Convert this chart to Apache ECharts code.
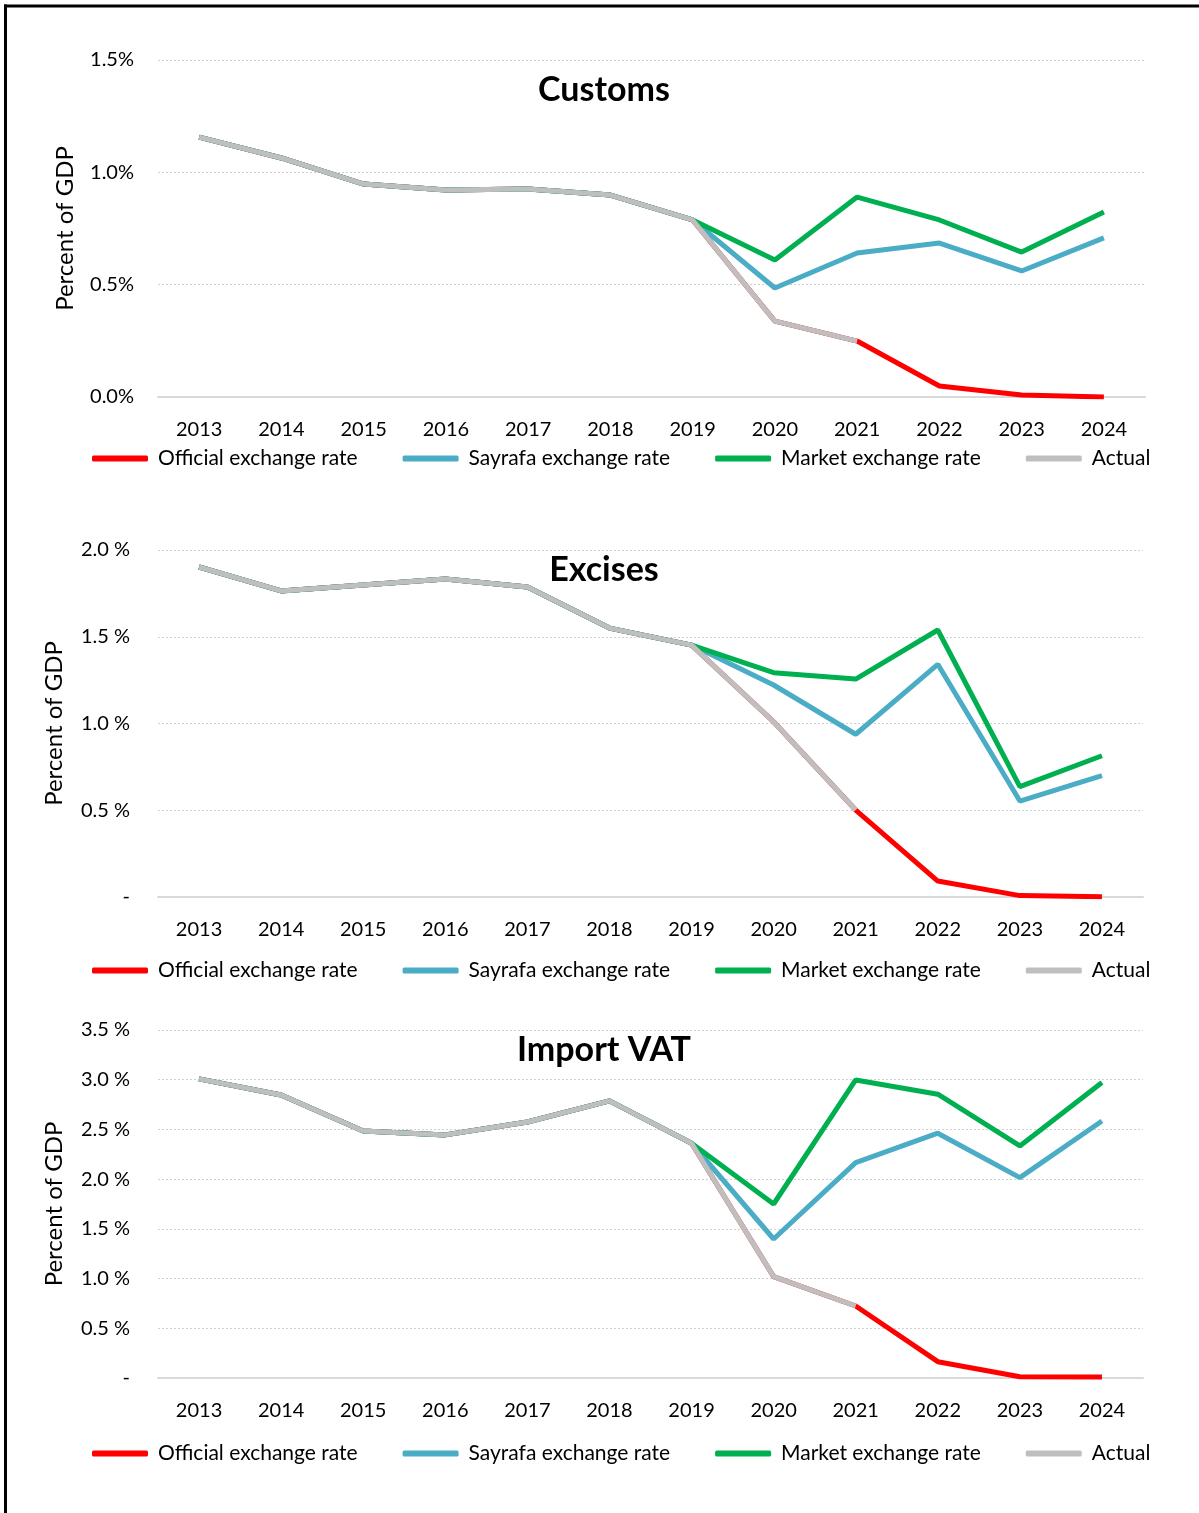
<!DOCTYPE html>
<html>
<head>
<meta charset="utf-8">
<script src="https://cdn.jsdelivr.net/npm/echarts@6/dist/echarts.min.js"></script>
<style>
  html, body { margin: 0; padding: 0; background: #fff; }
  #main { width: 1199px; height: 1513px; }
</style>
</head>
<body>
<div id="main"></div>
<script>
const years = ['2013', '2014', '2015', '2016', '2017', '2018', '2019', '2020', '2021', '2022', '2023', '2024'];
const seriesNames = ['Official exchange rate', 'Sayrafa exchange rate', 'Market exchange rate', 'Actual'];

// Customs, percent of GDP
const customsOfficial = [1.157, 1.064, 0.948, 0.921, 0.926, 0.899, 0.788, 0.338, 0.249, 0.049, 0.009, 0.0];
const customsSayrafa = [1.157, 1.064, 0.948, 0.921, 0.926, 0.899, 0.788, 0.485, 0.641, 0.685, 0.561, 0.708];
const customsMarket = [1.157, 1.064, 0.948, 0.921, 0.926, 0.899, 0.788, 0.610, 0.890, 0.788, 0.645, 0.823];
const customsActual = [1.157, 1.064, 0.948, 0.921, 0.926, 0.899, 0.788, 0.338, 0.249, null, null, null];

// Excises
const excisesOfficial = [1.902, 1.764, 1.798, 1.833, 1.787, 1.550, 1.452, 1.010, 0.501, 0.092, 0.008, 0.002];
const excisesSayrafa = [1.902, 1.764, 1.798, 1.833, 1.787, 1.550, 1.452, 1.222, 0.938, 1.341, 0.553, 0.699];
const excisesMarket = [1.902, 1.764, 1.798, 1.833, 1.787, 1.550, 1.452, 1.293, 1.256, 1.539, 0.636, 0.814];
const excisesActual = [1.902, 1.764, 1.798, 1.833, 1.787, 1.550, 1.452, 1.010, 0.501, null, null, null];

// Import VAT
const vatOfficial = [3.008, 2.847, 2.485, 2.445, 2.575, 2.787, 2.361, 1.019, 0.724, 0.164, 0.013, 0.010];
const vatSayrafa = [3.008, 2.847, 2.485, 2.445, 2.575, 2.787, 2.361, 1.398, 2.166, 2.462, 2.015, 2.585];
const vatMarket = [3.008, 2.847, 2.485, 2.445, 2.575, 2.787, 2.361, 1.750, 2.998, 2.854, 2.334, 2.971];
const vatActual = [3.008, 2.847, 2.485, 2.445, 2.575, 2.787, 2.361, 1.019, 0.724, null, null, null];

const colors = ['#FF0000', '#4BACC6', '#00B050', '#BFBFBF'];
const font = 'Lato, "Open Sans", sans-serif';

const panels = [
  { title: 'Customs', titleY: 90, top: 60, height: 337, right: 54, max: 1.5, fmt: (v) => v.toFixed(1) + '%', nameX: 65, data: [customsOfficial, customsSayrafa, customsMarket, customsActual], legendY: 458 },
  { title: 'Excises', titleY: 570, top: 550, height: 347, right: 56, max: 2.0, fmt: (v) => (v === 0 ? '-' : v.toFixed(1) + ' %'), nameX: 54, data: [excisesOfficial, excisesSayrafa, excisesMarket, excisesActual], legendY: 970 },
  { title: 'Import VAT', titleY: 1050, top: 1030, height: 348, right: 56, max: 3.5, fmt: (v) => (v === 0 ? '-' : v.toFixed(1) + ' %'), nameX: 54, data: [vatOfficial, vatSayrafa, vatMarket, vatActual], legendY: 1453 },
];

const chart = echarts.init(document.getElementById('main'));

const option = {
  animation: false,
  legend: panels.map((p) => ({
    data: seriesNames,
    left: 92,
    top: p.legendY - 10,
    padding: 0,
    itemWidth: 56,
    itemHeight: 6,
    itemGap: 45,
    icon: 'roundRect',
    textStyle: { fontFamily: font, fontSize: 21, color: '#000', padding: [0, 0, 0, 5] },
  })),
  grid: panels.map((p) => ({ left: 158, right: p.right, top: p.top, height: p.height })),
  xAxis: panels.map((p, i) => ({
    type: 'category',
    gridIndex: i,
    data: years,
    boundaryGap: true,
    axisTick: { show: false },
    axisLine: { show: true, lineStyle: { color: '#D9D9D9', width: 2 } },
    axisLabel: { fontFamily: font, fontSize: 20, color: '#000', margin: 23 },
  })),
  yAxis: panels.map((p, i) => ({
    type: 'value',
    gridIndex: i,
    min: 0,
    max: p.max,
    interval: 0.5,
    name: 'Percent of GDP',
    nameLocation: 'middle',
    nameGap: 158 - p.nameX - 12,
    nameTextStyle: { fontFamily: font, fontSize: 24, color: '#000' },
    axisLine: { show: false },
    axisTick: { show: false },
    axisLabel: { fontFamily: font, fontSize: 20, color: '#000', margin: i === 0 ? 24 : 28, formatter: p.fmt },
    splitLine: { lineStyle: { color: '#D0D0D0', type: [2, 2], width: 1 } },
  })),
  series: [],
  graphic: [
    { type: 'line', shape: { x1: 5.5, y1: 4.5, x2: 5.5, y2: 1513 }, style: { stroke: '#000', lineWidth: 3 } },
    { type: 'line', shape: { x1: 4, y1: 6, x2: 1199, y2: 6 }, style: { stroke: '#000', lineWidth: 3 } },
  ].concat(panels.map((p) => ({
    type: 'text',
    x: 604,
    y: p.titleY,
    style: {
      text: p.title,
      fontFamily: font,
      fontSize: 34,
      fontWeight: 'bold',
      fill: '#000',
      align: 'center',
      verticalAlign: 'middle',
    },
  }))),
};

panels.forEach((p, i) => {
  seriesNames.forEach((name, k) => {
    option.series.push({
      name,
      type: 'line',
      xAxisIndex: i,
      yAxisIndex: i,
      data: p.data[k],
      symbol: 'none',
      color: colors[k],
      lineStyle: { color: colors[k], width: 5 },
      z: 2 + k,
    });
  });
});

chart.setOption(option);
</script>
</body>
</html>
